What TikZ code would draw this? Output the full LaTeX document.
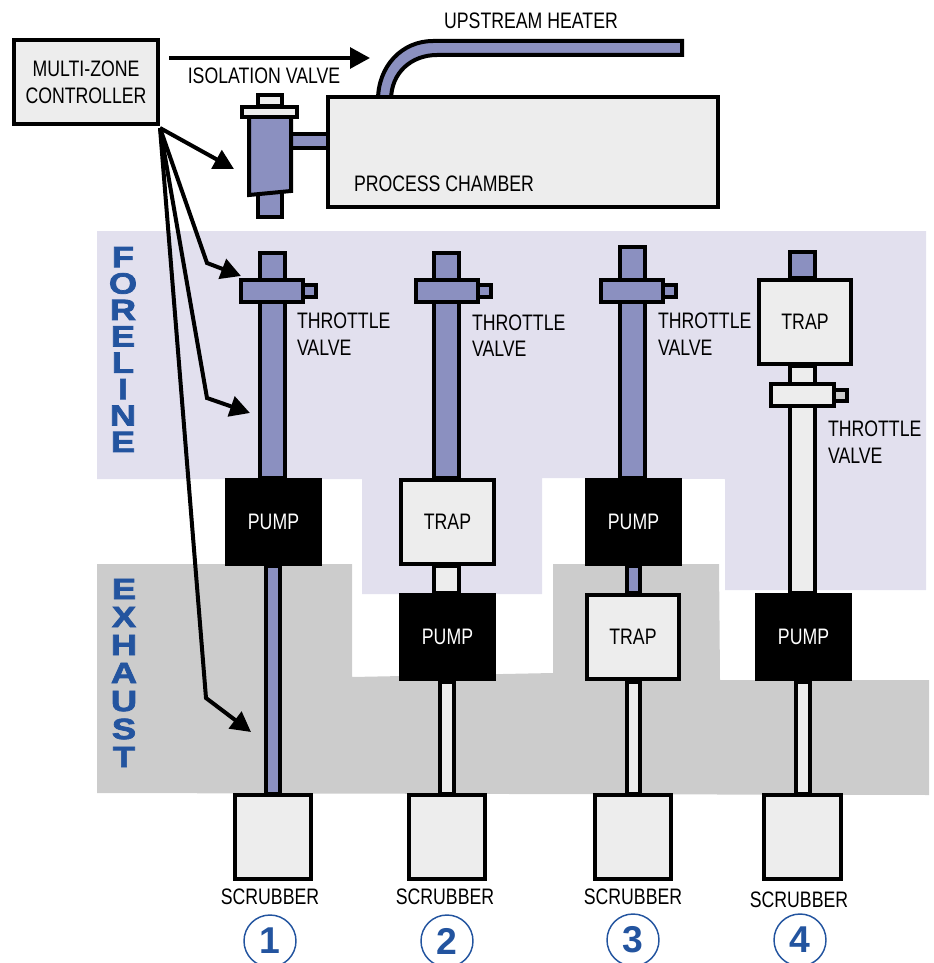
\documentclass[tikz,border=0pt]{standalone}
\usepackage{fontspec}
\setmainfont{Liberation Sans}[FakeStretch=0.79]
\newfontfamily\wideb{Liberation Sans}[FakeStretch=1.24,FakeBold=2.5]
\newfontfamily\digitf{Liberation Sans}
\usetikzlibrary{arrows.meta}
\definecolor{pipeblue}{HTML}{8B90C0}
\definecolor{lav}{HTML}{E2E0EE}
\definecolor{exh}{HTML}{CCCCCC}
\definecolor{pale}{HTML}{EDEDED}
\definecolor{ttl}{HTML}{23549F}
% \bx[style]{name}{x1}{y1}{x2}{y2}{text}: outer edges in reference pixels
\newcommand{\bx}[7][]{%
  \pgfmathsetmacro{\bxw}{(#5-#3-4)*0.75}%
  \pgfmathsetmacro{\bxh}{(#6-#4-4)*0.75}%
  \pgfmathsetmacro{\bxx}{(#3+#5)/2}%
  \pgfmathsetmacro{\bxy}{(#4+#6)/2}%
  \node[partbox,minimum width=\bxw pt,minimum height=\bxh pt,#1] (#2) at (\bxx,\bxy) {#7};%
}
\tikzset{
  partbox/.style={draw=black,line width=3pt,inner sep=0pt,outer sep=0pt,fill=pale,align=center,font=\fontsize{16.8}{20.2}\selectfont},
  blue part/.style={fill=pipeblue},
  pump part/.style={fill=black,text=white},
  lbl/.style={inner sep=0pt,outer sep=0pt,align=left,font=\fontsize{16.8}{19.8}\selectfont},
  num/.style={circle,draw=ttl,line width=1.1pt,minimum size=39pt,inner sep=0pt,text=ttl,font=\digitf\bfseries\fontsize{28}{28}\selectfont},
  ttlstack/.style={inner sep=0pt,outer sep=0pt,align=center,text=ttl},
  sig/.style={draw=black,line width=3pt,line join=miter,-{Triangle[length=15pt,width=15.5pt]}}
}
\begin{document}
\begin{tikzpicture}[x=0.75pt,y=-0.75pt]
\useasboundingbox (0,0) rectangle (933,963);
% zones
\fill[lav] (97,231) -- (926,231) -- (926,590) -- (725,590) -- (725,479) -- (542,478) -- (542,594) -- (362,594) -- (362,479) -- (97,479) -- cycle;
\fill[exh] (97,564) -- (352,564) -- (352,677) -- (553,673) -- (553,564) -- (719,564) -- (720,680) -- (929,680) -- (929,795) -- (97,793) -- cycle;
% zone titles
\node[ttlstack,font=\wideb\bfseries\fontsize{22}{19.8}\selectfont] (foreline) at (123,349.5) {F\\O\\R\\E\\L\\I\\N\\E};
\node[ttlstack,font=\wideb\bfseries\fontsize{22}{21}\selectfont] (exhaust) at (124,673) {E\\X\\H\\A\\U\\S\\T};
% heater
\draw[line width=3pt,fill=pipeblue,line join=miter] (378,100) .. controls (378,66) and (402,41) .. (433,41) -- (682,41) -- (682,55) -- (437,55) .. controls (412,55) and (391,72) .. (391,100) -- cycle;
% isolation valve
\bx[blue part]{stub}{288}{132}{332}{150}{}
\bx{chamber}{326}{95}{720}{209}{}
\bx[blue part]{ivstem}{256}{185}{284}{219}{}
\draw[line width=3pt,fill=pipeblue,line join=miter] (249,117) -- (291,117) -- (291,191) -- (249,195) -- cycle;
\bx{ivcap}{256}{93}{284}{108}{}
\bx{ivflange}{240}{105}{299}{119}{}
% column 1
\bx[blue part]{p1a}{258}{251}{287}{480}{}
\bx[blue part]{n1}{301}{283}{318}{299}{}
\bx[blue part]{v1}{239}{278}{305}{304}{}
\bx[blue part]{p1b}{264}{564}{282}{796}{}
\bx[pump part]{pump1}{225}{478}{322}{566}{PUMP}
\bx{scr1}{233}{793}{313}{881}{}
% column 2
\bx[blue part]{p2a}{432}{251}{461}{480}{}
\bx[blue part]{n2}{476}{283}{493}{299}{}
\bx[blue part]{v2}{414}{278}{480}{304}{}
\bx{p2b}{432}{564}{461}{595}{}
\bx{p2c}{438}{680}{456}{796}{}
\bx{trap2}{399}{478}{496}{566}{TRAP}
\bx[pump part]{pump2}{399}{593}{496}{681}{PUMP}
\bx{scr2}{407}{793}{487}{881}{}
% column 3
\bx[blue part]{p3a}{618}{245}{647}{480}{}
\bx[blue part]{n3}{661}{283}{678}{299}{}
\bx[blue part]{v3}{599}{278}{665}{304}{}
\bx[blue part]{p3b}{625}{564}{642}{595}{}
\bx{p3c}{625}{680}{642}{796}{}
\bx[pump part]{pump3}{585}{478}{682}{566}{PUMP}
\bx{trap3}{585}{593}{681}{681}{TRAP}
\bx{scr3}{593}{793}{673}{881}{}
% column 4
\bx[blue part]{p4a}{788}{250}{817}{280}{}
\bx{p4b}{788}{364}{817}{595}{}
\bx[fill=exh]{n4}{832}{388}{849}{403}{}
\bx{v4}{769}{382}{836}{408}{}
\bx{p4c}{794}{680}{812}{796}{}
\bx{trap4}{757}{278}{853}{366}{TRAP}
\bx[pump part]{pump4}{755}{593}{852}{681}{PUMP}
\bx{scr4}{762}{793}{843}{881}{}
% controller
\bx{ctrl}{12}{38}{160}{126}{MULTI-ZONE\\CONTROLLER}
% labels
\node[lbl,anchor=center] (isolbl) at (264,76) {ISOLATION VALVE};
\node[lbl,anchor=center] (uplbl) at (531,21) {UPSTREAM HEATER};
\node[lbl,anchor=west] (chlbl) at (354,184) {PROCESS CHAMBER};
\node[lbl,anchor=west] (t1) at (297,334) {THROTTLE\\VALVE};
\node[lbl,anchor=west] (t2) at (472,335.5) {THROTTLE\\VALVE};
\node[lbl,anchor=west] (t3) at (658,334) {THROTTLE\\VALVE};
\node[lbl,anchor=west] (t4) at (828,442) {THROTTLE\\VALVE};
\node[lbl,anchor=center] (s1) at (270,897) {SCRUBBER};
\node[lbl,anchor=center] (s2) at (445,897) {SCRUBBER};
\node[lbl,anchor=center] (s3) at (633,897) {SCRUBBER};
\node[lbl,anchor=center] (s4) at (799,900) {SCRUBBER};
\node[num] (c1) at (270,941) {1};
\node[num] (c2) at (447,941) {2};
\node[num] (c3) at (633,940) {3};
\node[num] (c4) at (800,940) {4};
% signal arrows
\coordinate (hstart) at (169,58);
\coordinate (htip) at (370,58);
\coordinate (src) at (160,128);
\coordinate (ivtip) at (234,169);
\coordinate (k1) at (207,263);
\coordinate (tvtip) at (241,276);
\coordinate (k2) at (207,398);
\coordinate (pipetip) at (250,413);
\coordinate (k3) at (206,698);
\coordinate (extip) at (251,732);
\draw[sig] (hstart) -- (htip);
\draw[sig] (src) -- (ivtip);
\draw[sig] (src) -- (k1) -- (tvtip);
\draw[sig] (src) -- (k2) -- (pipetip);
\draw[sig] (src) -- (k3) -- (extip);
\end{tikzpicture}
\end{document}
